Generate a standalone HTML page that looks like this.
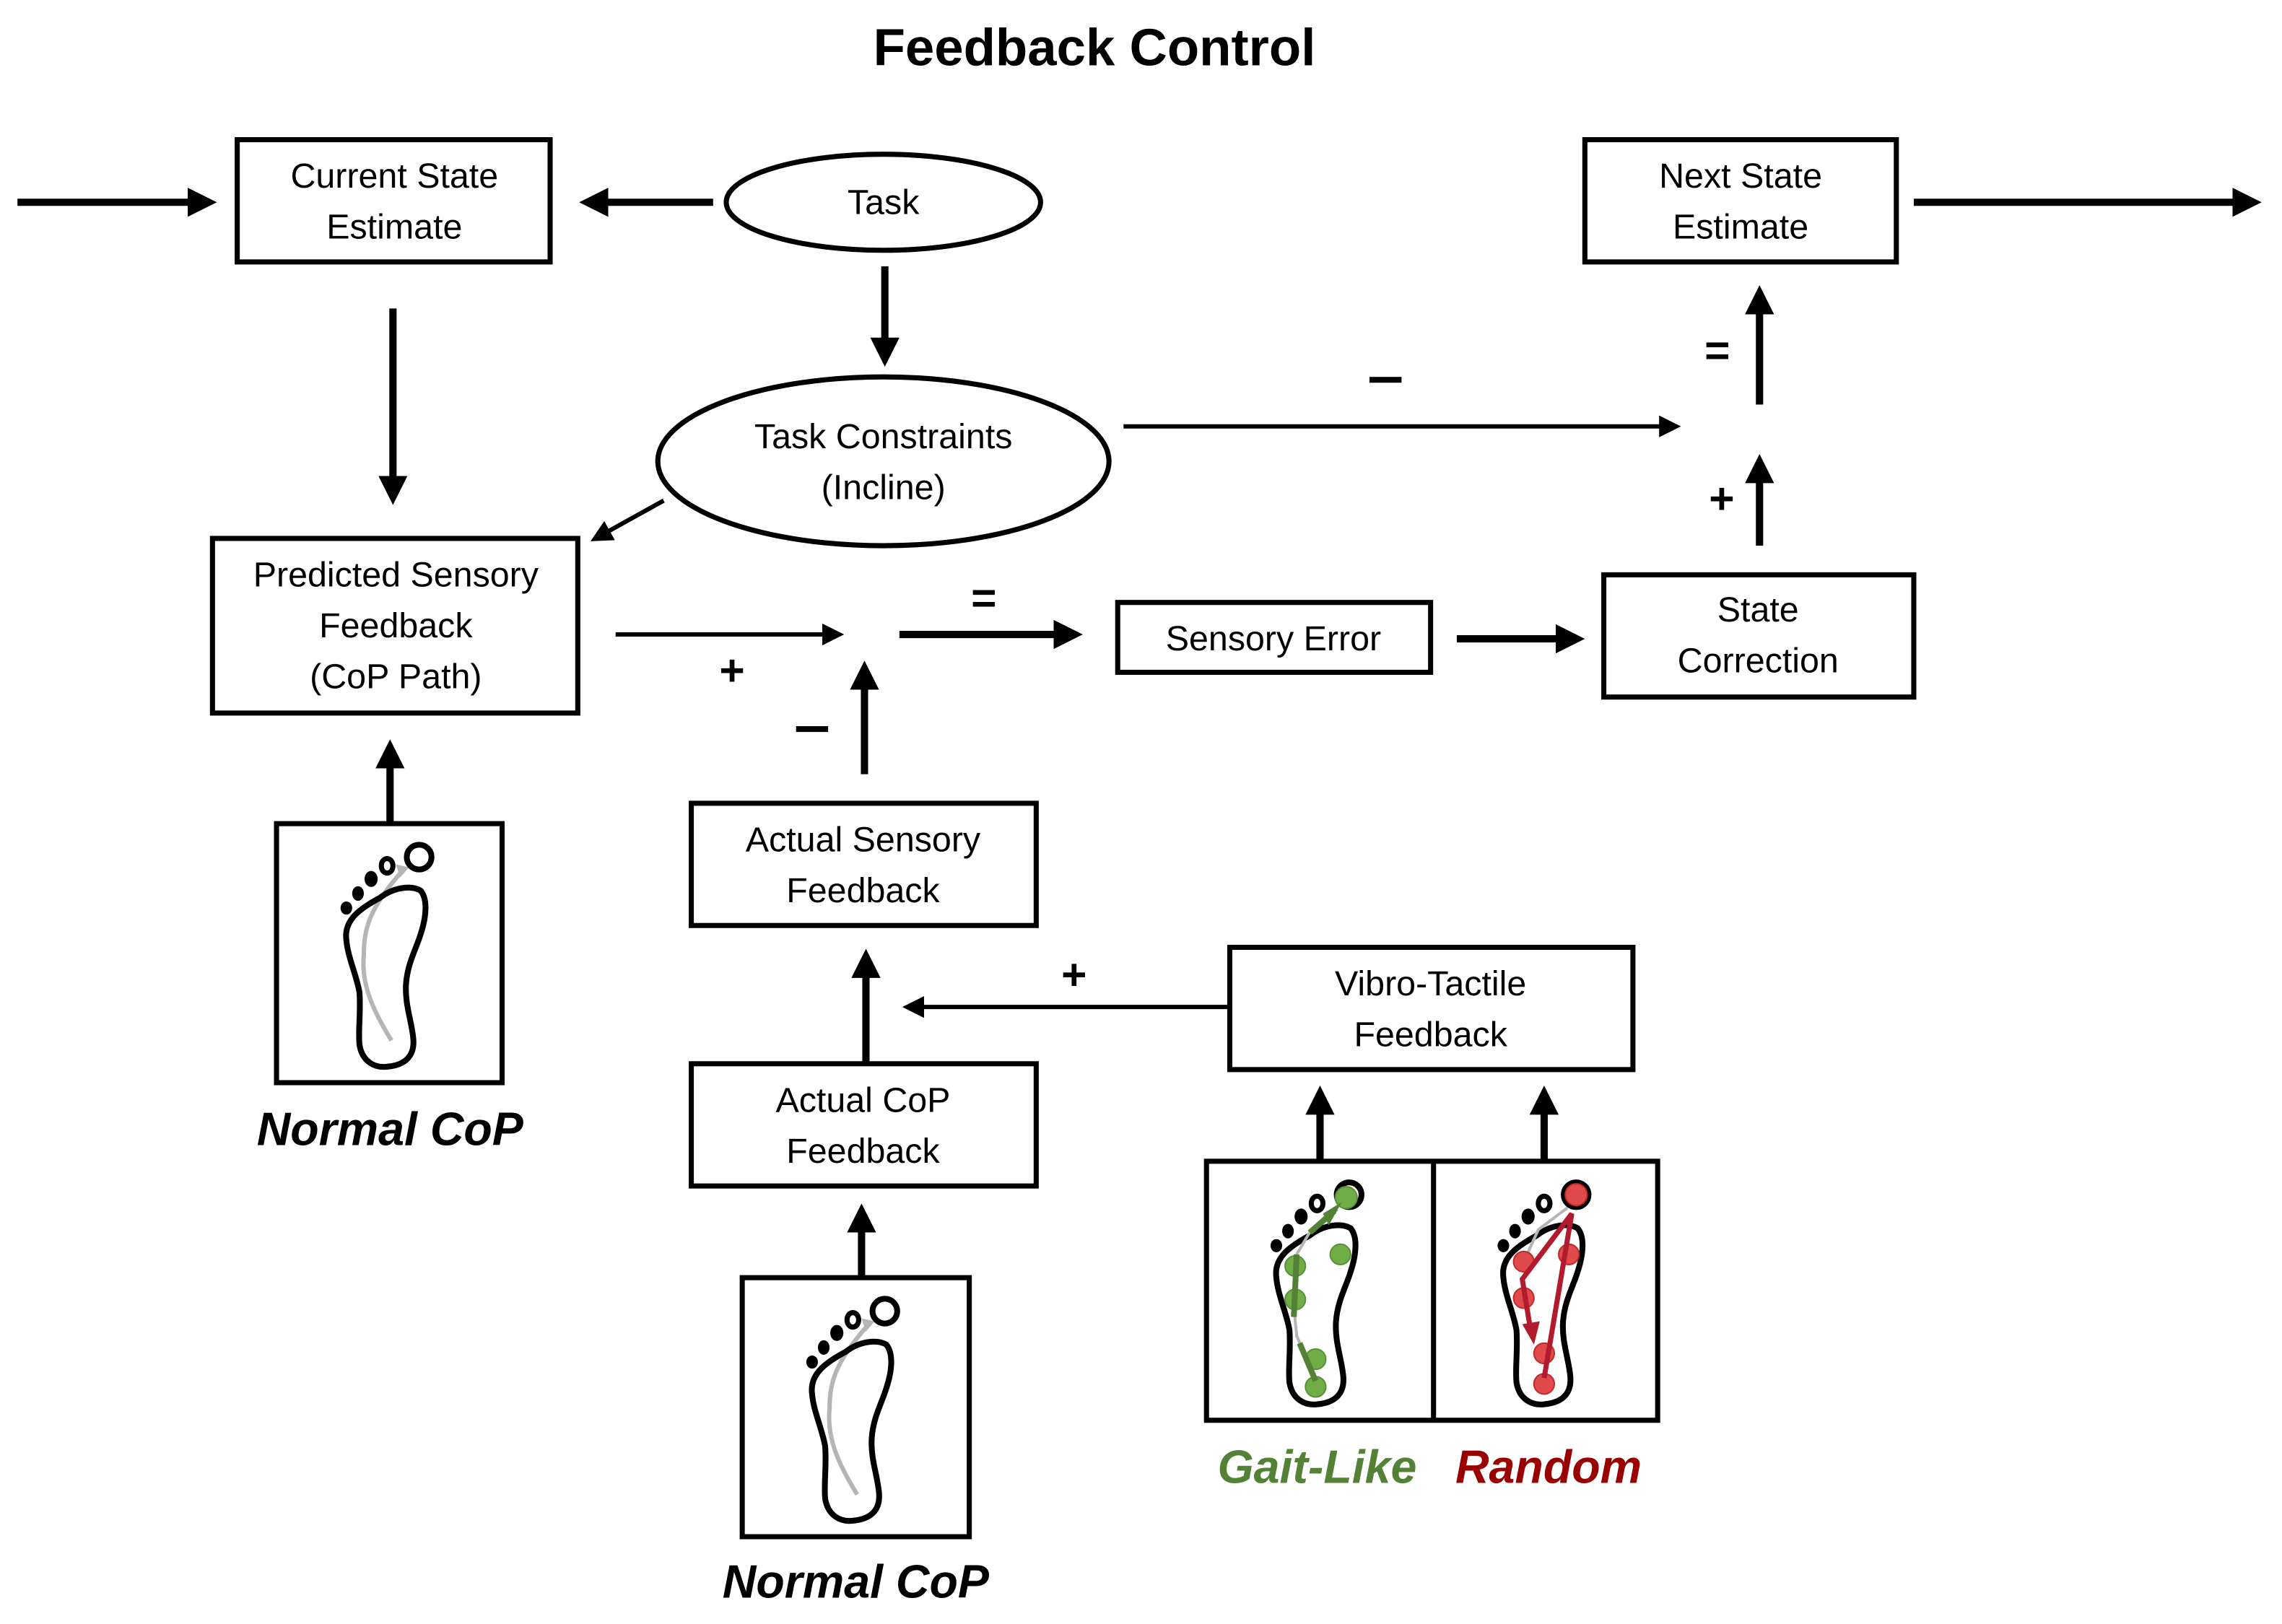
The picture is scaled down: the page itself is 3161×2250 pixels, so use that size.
<!DOCTYPE html>
<html><head><meta charset="utf-8"><style>
html,body{margin:0;padding:0;background:#fff}
svg{display:block}
text{font-family:"Liberation Sans",sans-serif;fill:#000}
</style></head><body>
<svg width="3161" height="2250" viewBox="0 0 1568 1116" preserveAspectRatio="none" xmlns="http://www.w3.org/2000/svg">
<defs>
<marker id="ah" markerWidth="4" markerHeight="4" refX="2.2" refY="2" orient="auto" markerUnits="strokeWidth"><path d="M0,0 L4,2 L0,4 Z" fill="#000"/></marker>
<marker id="at" markerWidth="5" markerHeight="5" refX="3" refY="2.5" orient="auto" markerUnits="strokeWidth"><path d="M0,0 L5,2.5 L0,5 Z" fill="#000"/></marker>
<g id="foot">
<path d="M99,46 C92,42 80,44 71,51 C58,58 46,66 48,80 C49,92 55,104 57,116 C58,130 56,142 57,152 C59,164 68,168 76,167 C88,166 95,160 94,148 C93,136 88,124 89,110 C90,96 96,86 99,76 C103,64 104,52 99,46 Z" fill="none" stroke="#000" stroke-width="4"/>
<circle cx="98" cy="23" r="8.5" fill="none" stroke="#000" stroke-width="4"/>
<ellipse cx="76" cy="29" rx="4" ry="5" fill="none" stroke="#000" stroke-width="3.5"/>
<ellipse cx="65" cy="38" rx="4.5" ry="5.5" fill="#000"/>
<ellipse cx="56" cy="48" rx="4" ry="5" fill="#000"/>
<ellipse cx="48" cy="58" rx="4" ry="4.5" fill="#000"/>
</g>
</defs>

<text x="752" y="45" font-size="36" font-weight="bold" text-anchor="middle">Feedback Control</text>

<g fill="none" stroke="#000" stroke-width="3.5">
<rect x="163" y="96" width="215" height="84"/>
<rect x="1089" y="96" width="214" height="84"/>
<rect x="146" y="370" width="251" height="120"/>
<rect x="768" y="414" width="215" height="48"/>
<rect x="1102" y="395" width="213" height="84"/>
<rect x="475" y="552" width="237" height="84"/>
<rect x="475" y="731" width="237" height="84"/>
<rect x="845" y="651" width="277" height="84"/>
<rect x="190" y="566" width="155" height="178"/>
<rect x="510" y="878" width="156" height="178"/>
<rect x="829" y="798" width="310" height="178"/>
<line x1="985" y1="798" x2="985" y2="976"/>
<ellipse cx="607" cy="139" rx="108" ry="33"/>
<ellipse cx="607" cy="317" rx="155" ry="58"/>
</g>

<g stroke="#000" stroke-width="5" fill="none" marker-end="url(#ah)">
<line x1="12" y1="139" x2="140" y2="139"/>
<line x1="490" y1="139" x2="407" y2="139"/>
<line x1="608" y1="183" x2="608" y2="243"/>
<line x1="270" y1="212" x2="270" y2="338"/>
<line x1="618" y1="436" x2="735" y2="436"/>
<line x1="1001" y1="439" x2="1080" y2="439"/>
<line x1="1209" y1="375" x2="1209" y2="321"/>
<line x1="1209" y1="278" x2="1209" y2="205"/>
<line x1="1315" y1="139" x2="1545" y2="139"/>
<line x1="594" y1="532" x2="594" y2="463"/>
<line x1="595" y1="731" x2="595" y2="661"/>
<line x1="907" y1="797" x2="907" y2="755"/>
<line x1="1061" y1="797" x2="1061" y2="755"/>
<line x1="268" y1="566" x2="268" y2="517"/>
<line x1="592" y1="878" x2="592" y2="836"/>
</g>
<g stroke="#000" stroke-width="3" fill="none" marker-end="url(#at)">
<line x1="456" y1="344" x2="411" y2="369"/>
<line x1="423" y1="436" x2="574" y2="436"/>
<line x1="772" y1="293" x2="1149" y2="293"/>
<line x1="845" y1="692" x2="626" y2="692"/>
</g>

<g font-size="24" text-anchor="middle">
<text x="271" y="129">Current State</text><text x="271" y="164">Estimate</text>
<text x="607" y="147">Task</text>
<text x="607" y="308">Task Constraints</text><text x="607" y="343">(Incline)</text>
<text x="1196" y="129">Next State</text><text x="1196" y="164">Estimate</text>
<text x="272" y="403">Predicted Sensory</text><text x="272" y="438">Feedback</text><text x="272" y="473">(CoP Path)</text>
<text x="875" y="447">Sensory Error</text>
<text x="1208" y="427">State</text><text x="1208" y="462">Correction</text>
<text x="593" y="585">Actual Sensory</text><text x="593" y="620">Feedback</text>
<text x="593" y="764">Actual CoP</text><text x="593" y="799">Feedback</text>
<text x="983" y="684">Vibro-Tactile</text><text x="983" y="719">Feedback</text>
</g>
<g font-size="30" font-weight="bold" text-anchor="middle">
<text x="503" y="471">+</text>
<text x="676" y="421">=</text>
<text x="1180" y="251">=</text>
<text x="1183" y="353">+</text>
<text x="738" y="680">+</text>
</g>
<g fill="#000">
<rect x="547" y="499" width="22" height="4"/>
<rect x="941" y="259" width="22" height="4"/>
</g>
<g font-size="32" font-weight="bold" font-style="italic" text-anchor="middle">
<text x="268" y="787">Normal CoP</text>
<text x="588" y="1098">Normal CoP</text>
<text x="905" y="1019" style="fill:#538135">Gait-Like</text>
<text x="1064" y="1019" style="fill:#990000">Random</text>
</g>

<g transform="translate(190,566)">
<path d="M79,149 C66,128 58,110 60,90 C60,72 64,58 86,33" fill="none" stroke="#b5b5b5" stroke-width="3"/>
<path d="M82,28 L91,30 L85,37 Z" fill="#b5b5b5"/>
<use href="#foot"/>
</g>
<g transform="translate(510,878)">
<path d="M79,149 C66,128 58,110 60,90 C60,72 64,58 86,33" fill="none" stroke="#b5b5b5" stroke-width="3"/>
<path d="M82,28 L91,30 L85,37 Z" fill="#b5b5b5"/>
<use href="#foot"/>
</g>
<g transform="translate(829,798)">
<use href="#foot"/>
<path d="M75,151 L62,120 L60,100 L62,64 L72,47 L90,33" fill="none" stroke="#b5b5b5" stroke-width="2"/>
<g fill="#70ad47" stroke="#5a8f3a" stroke-width="1">
<circle cx="96" cy="25" r="7.5"/><circle cx="92" cy="64" r="7"/><circle cx="61" cy="72" r="7"/><circle cx="61" cy="95" r="7"/><circle cx="75" cy="136" r="7"/><circle cx="75" cy="155" r="7"/>
</g>
<g stroke="#538135" stroke-width="4" fill="none">
<line x1="75" y1="151" x2="64" y2="125"/>
<line x1="60" y1="107" x2="62" y2="64"/>
<line x1="71" y1="49" x2="88" y2="34"/>
</g>
<path d="M93,28 L84,44 L80,36 Z" fill="#538135"/>
</g>
<g transform="translate(985,798)">
<use href="#foot"/>
<path d="M62,69 L72,47 L92,32" fill="none" stroke="#b5b5b5" stroke-width="2"/>
<g fill="#e04a4a" stroke="#c02a2a" stroke-width="1">
<circle cx="98" cy="23" r="7.5"/><circle cx="93" cy="64" r="7"/><circle cx="62" cy="69" r="7"/><circle cx="62" cy="94" r="7"/><circle cx="76" cy="132" r="7"/><circle cx="76" cy="153" r="7"/>
</g>
<path d="M76,149 L95,36 L61,81 L67,118" fill="none" stroke="#b01c2e" stroke-width="3.5"/>
<path d="M61,112 L73,110 L69,126 Z" fill="#b01c2e"/>
</g>
</svg>
</body></html>
